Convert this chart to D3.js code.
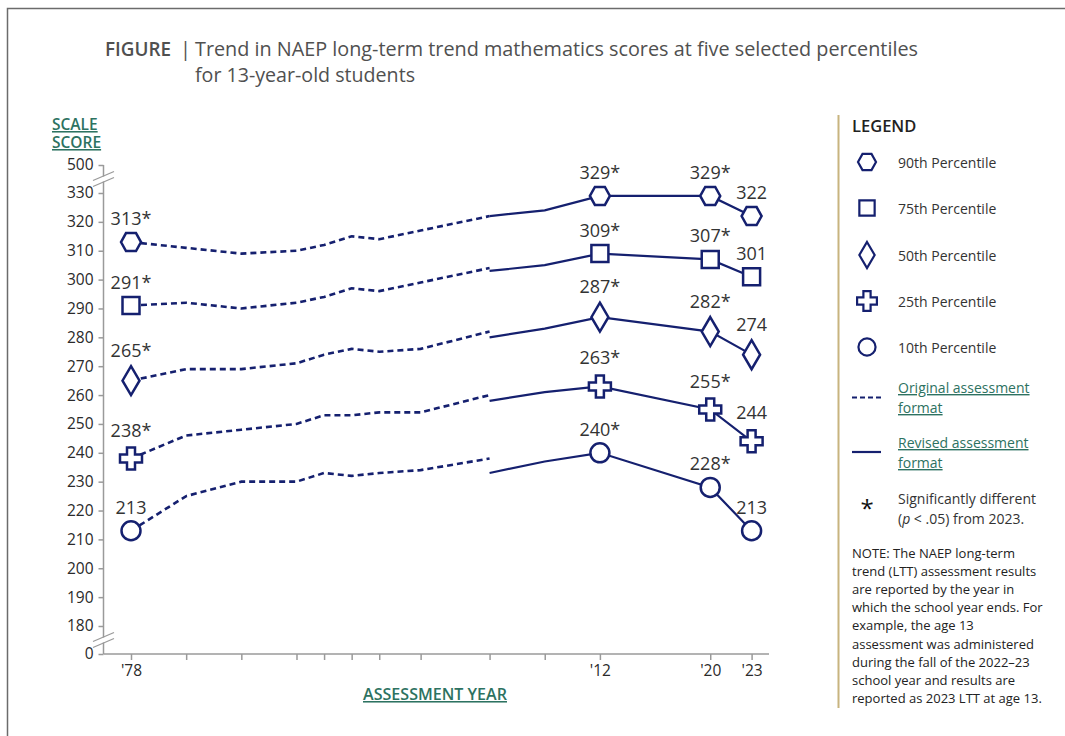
<!DOCTYPE html>
<html>
<head>
<meta charset="utf-8">
<script src="https://cdn.jsdelivr.net/npm/d3@7"></script>
<style>
  body { margin: 0; background: #fff; }
  text { font-family: "Open Sans", sans-serif; }
</style>
</head>
<body>
<div id="container"></div>
<script>
const origYears = [1978, 1982, 1986, 1990, 1992, 1994, 1996, 1999, 2004];
const revYears = [2004, 2008, 2012, 2020, 2023];
const tickYears = [1978, 1982, 1986, 1990, 1992, 1994, 1996, 1999, 2004, 2008, 2012, 2020, 2023];
const tickYearLabels = ["'78", "", "", "", "", "", "", "", "", "", "'12", "'20", "'23"];
const scoreTicks = [0, 180, 190, 200, 210, 220, 230, 240, 250, 260, 270, 280, 290, 300, 310, 320, 330, 500];

const percentiles = ["90th Percentile", "75th Percentile", "50th Percentile", "25th Percentile", "10th Percentile"];
const shapes = ["hexagon", "square", "diamond", "cross", "circle"];

const orig90 = [313, 311, 309, 310, 312, 315, 314, 317, 322];
const orig75 = [291, 292, 290, 292, 294, 297, 296, 299, 304];
const orig50 = [265, 269, 269, 271, 274, 276, 275, 276, 282];
const orig25 = [238, 246, 248, 250, 253, 253, 254, 254, 260];
const orig10 = [213, 225, 230, 230, 233, 232, 233, 234, 238];

const rev90 = [322, 324, 329, 329, 322];
const rev75 = [303, 305, 309, 307, 301];
const rev50 = [280, 283, 287, 282, 274];
const rev25 = [258, 261, 263, 255, 244];
const rev10 = [233, 237, 240, 228, 213];

// years that get a marker and a value label
const labelYears = [1978, 2012, 2020, 2023];
const sig90 = [true, true, true, false];
const sig75 = [true, true, true, false];
const sig50 = [true, true, true, false];
const sig25 = [true, true, true, false];
const sig10 = [false, true, true, false];

const noteLines = [
  "NOTE: The NAEP long-term",
  "trend (LTT) assessment results",
  "are reported by the year in",
  "which the school year ends. For",
  "example, the age 13",
  "assessment was administered",
  "during the fall of the 2022\u201323",
  "school year and results are",
  "reported as 2023 LTT at age 13."
];

const origAll = [orig90, orig75, orig50, orig25, orig10];
const revAll = [rev90, rev75, rev50, rev25, rev10];
const sigAll = [sig90, sig75, sig50, sig25, sig10];

const series = percentiles.map((name, i) => ({
  name: name,
  shape: shapes[i],
  orig: origYears.map((yr, j) => ({ year: yr, value: origAll[i][j] })),
  rev: revYears.map((yr, j) => ({ year: yr, value: revAll[i][j] })),
  labels: labelYears.map((yr, j) => ({
    year: yr,
    value: yr === 1978 ? origAll[i][0] : revAll[i][revYears.indexOf(yr)],
    sig: sigAll[i][j]
  }))
}));

const w = 1065;
const h = 736;
const navy = "#15206f";
const green = "#2d7261";
const axisGray = "#9a9a9a";

const x = d3.scaleLinear().domain([1978, 2023]).range([131, 751.6]);
const y = d3.scaleLinear().domain([0, 180, 330, 500]).range([654, 626, 193, 165]);

const svg = d3.select("#container")
  .append("svg")
  .attr("width", w)
  .attr("height", h);

// frame
svg.append("path")
  .attr("d", `M7.5,${h} V8.5 H${w}`)
  .attr("fill", "none")
  .attr("stroke", "#6b6b6b")
  .attr("stroke-width", 1.5);

// title
const title = svg.append("g").attr("fill", "#505050").style("font-size", "20px");
title.append("text").attr("x", 105).attr("y", 56).attr("font-weight", 600)
  .attr("textLength", 66).attr("lengthAdjust", "spacingAndGlyphs").text("FIGURE");
title.append("text").attr("x", 180).attr("y", 56).text("|");
title.append("text").attr("x", 195).attr("y", 56)
  .attr("textLength", 723).attr("lengthAdjust", "spacingAndGlyphs")
  .text("Trend in NAEP long-term trend mathematics scores at five selected percentiles");
title.append("text").attr("x", 195).attr("y", 82)
  .attr("textLength", 220).attr("lengthAdjust", "spacingAndGlyphs")
  .text("for 13-year-old students");

// axis titles
const axTitle = svg.append("g").attr("fill", green).attr("font-weight", 600)
  .style("font-size", "15.5px").style("text-decoration", "underline");
const yTitle = axTitle.append("text").attr("x", 52).attr("y", 130);
yTitle.append("tspan").attr("x", 52).text("SCALE");
yTitle.append("tspan").attr("x", 52).attr("dy", 18).text("SCORE");
axTitle.append("text").attr("x", 363).attr("y", 700)
  .attr("textLength", 144).attr("lengthAdjust", "spacingAndGlyphs").text("ASSESSMENT YEAR");

// y axis
const yAxis = d3.axisLeft(y).tickValues(scoreTicks).tickSize(5).tickPadding(5).tickSizeOuter(0);
const yG = svg.append("g")
  .attr("transform", "translate(103.5,0)")
  .call(yAxis);
yG.select(".domain").attr("d", `M0,${y(500)}V${y(0)}`);

// x axis
const xAxis = d3.axisBottom(x).tickValues(tickYears).tickSize(6).tickPadding(5).tickSizeOuter(0)
  .tickFormat((d, i) => tickYearLabels[i]);
const xG = svg.append("g")
  .attr("transform", `translate(0,${y(0)})`)
  .call(xAxis);
xG.select(".domain").attr("d", "M103.5,0H769");

[yG, xG].forEach(g => {
  g.selectAll("path, line").attr("stroke", axisGray).attr("stroke-width", 1.5);
  g.selectAll("text").attr("fill", "#2a2a2a").style("font-size", "15.5px")
    .style("font-family", "'Open Sans', sans-serif");
});

// axis breaks
[(y(500) + y(330)) / 2, (y(180) + y(0)) / 2].forEach(by => {
  svg.append("rect").attr("x", 100).attr("y", by - 2.5).attr("width", 8).attr("height", 5).attr("fill", "#fff");
  [-3, 3].forEach(off => {
    svg.append("line")
      .attr("x1", 93).attr("y1", by + off + 4.5)
      .attr("x2", 114).attr("y2", by + off - 4.5)
      .attr("stroke", axisGray).attr("stroke-width", 1.3);
  });
});

// marker shapes
function shapePath(shape, s) {
  if (shape === "hexagon") {
    return `M${-10 * s},0L${-5 * s},${-9 * s}L${5 * s},${-9 * s}L${10 * s},0L${5 * s},${9 * s}L${-5 * s},${9 * s}Z`;
  } else if (shape === "square") {
    return `M${-8.5 * s},${-8.5 * s}H${8.5 * s}V${8.5 * s}H${-8.5 * s}Z`;
  } else if (shape === "diamond") {
    return `M0,${-14.5 * s}L${8.5 * s},0L0,${14.5 * s}L${-8.5 * s},0Z`;
  } else if (shape === "cross") {
    const a = 11 * s, b = 4 * s;
    return `M${-b},${-a}H${b}V${-b}H${a}V${b}H${b}V${a}H${-b}V${b}H${-a}V${-b}H${-b}Z`;
  }
  const r = 9.5 * s;
  return `M${-r},0A${r},${r} 0 1,0 ${r},0A${r},${r} 0 1,0 ${-r},0Z`;
}

const labelOffset = { hexagon: 17, square: 17, diamond: 24, cross: 22, circle: 17 };

const line = d3.line().x(d => x(d.year)).y(d => y(d.value));

const plot = svg.append("g");

series.forEach(s => {
  plot.append("path")
    .datum(s.orig)
    .attr("d", line)
    .attr("fill", "none")
    .attr("stroke", navy)
    .attr("stroke-width", 2.6)
    .attr("stroke-dasharray", "6,4");
  plot.append("path")
    .datum(s.rev)
    .attr("d", line)
    .attr("fill", "none")
    .attr("stroke", navy)
    .attr("stroke-width", 2.2);
});

series.forEach(s => {
  plot.selectAll(null)
    .data(s.labels)
    .enter()
    .append("path")
    .attr("transform", d => `translate(${x(d.year)},${y(d.value)})`)
    .attr("d", shapePath(s.shape, 1))
    .attr("fill", "#fff")
    .attr("stroke", navy)
    .attr("stroke-width", 2.5);

  plot.selectAll(null)
    .data(s.labels)
    .enter()
    .append("text")
    .attr("x", d => x(d.year))
    .attr("y", d => y(d.value) - labelOffset[s.shape])
    .attr("text-anchor", "middle")
    .attr("fill", "#333")
    .style("font-size", "18px")
    .text(d => d.value + (d.sig ? "*" : ""));
});

// legend
const legend = svg.append("g");
legend.append("line")
  .attr("x1", 838.5).attr("x2", 838.5).attr("y1", 115).attr("y2", 708)
  .attr("stroke", "#c8b47f").attr("stroke-width", 2);
legend.append("text").attr("x", 852).attr("y", 132)
  .attr("font-weight", 600).attr("fill", "#222").style("font-size", "16.5px").text("LEGEND");

const legendY = [162, 208, 255, 301, 347];
percentiles.forEach((p, i) => {
  legend.append("path")
    .attr("transform", `translate(867,${legendY[i]})`)
    .attr("d", shapePath(shapes[i], 0.9))
    .attr("fill", "#fff")
    .attr("stroke", navy)
    .attr("stroke-width", 2.2);
  legend.append("text").attr("x", 898).attr("y", legendY[i] + 5.5)
    .attr("fill", "#333").style("font-size", "14px").text(p);
});

legend.append("line").attr("x1", 852).attr("x2", 881).attr("y1", 397.5).attr("y2", 397.5)
  .attr("stroke", navy).attr("stroke-width", 2.2).attr("stroke-dasharray", "5,3");
legend.append("line").attr("x1", 852).attr("x2", 881).attr("y1", 452).attr("y2", 452)
  .attr("stroke", navy).attr("stroke-width", 2.2);

const linkText = legend.append("g").attr("fill", green).style("font-size", "14px")
  .style("text-decoration", "underline");
linkText.append("text").attr("x", 898).attr("y", 393).text("Original assessment");
linkText.append("text").attr("x", 898).attr("y", 413).text("format");
linkText.append("text").attr("x", 898).attr("y", 448).text("Revised assessment");
linkText.append("text").attr("x", 898).attr("y", 468).text("format");

legend.append("text").attr("x", 867).attr("y", 517).attr("text-anchor", "middle")
  .attr("fill", "#111").style("font-size", "24px").text("*");
legend.append("text").attr("x", 898).attr("y", 504)
  .attr("fill", "#333").style("font-size", "14px").text("Significantly different");
const pLine = legend.append("text").attr("x", 898).attr("y", 524)
  .attr("fill", "#333").style("font-size", "14px");
pLine.append("tspan").text("(");
pLine.append("tspan").attr("font-style", "italic").text("p");
pLine.append("tspan").text(" < .05) from 2023.");

legend.selectAll(null)
  .data(noteLines)
  .enter()
  .append("text")
  .attr("x", 852)
  .attr("y", (d, i) => 558 + i * 18.1)
  .attr("fill", "#222")
  .style("font-size", "13px")
  .text(d => d);
</script>
</body>
</html>
